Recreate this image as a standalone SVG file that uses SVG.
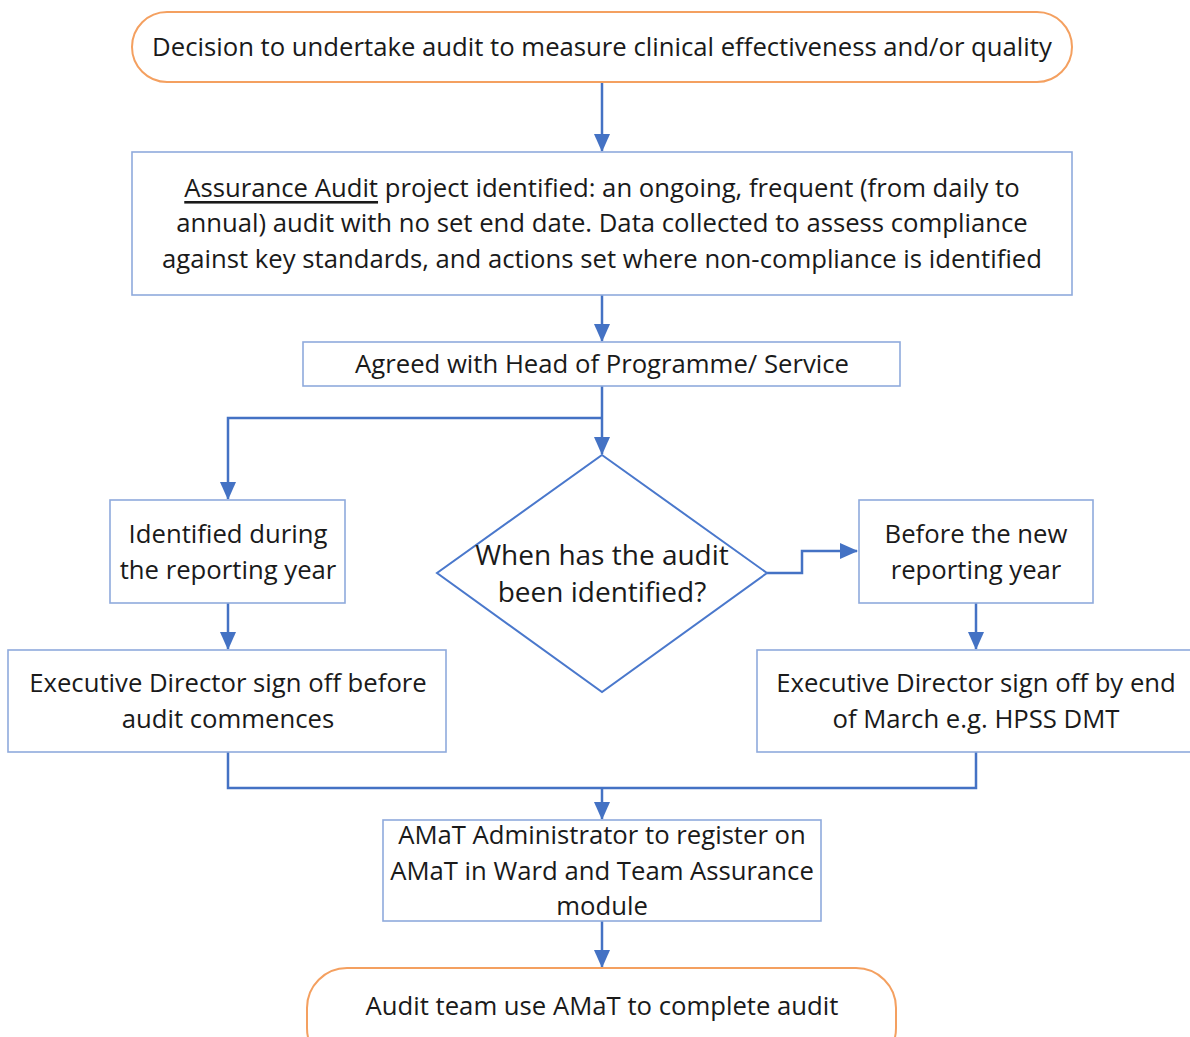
<svg xmlns="http://www.w3.org/2000/svg" width="1190" height="1037" viewBox="0 0 1190 1037">
<style>
text{font-family:"Open Sans","Noto Sans",sans-serif;font-size:25.7px;fill:#1a1a1a;text-anchor:middle;dominant-baseline:central}
.dt{font-size:28px}
.box{fill:#fff;stroke:#8FAADC;stroke-width:1.6}
.term{fill:#fff;stroke:#F4A060;stroke-width:2}
.dia{fill:#fff;stroke:#4A78CC;stroke-width:2}
.con{fill:none;stroke:#4472C4;stroke-width:2.5}
</style>
<defs>
<marker id="ah2" viewBox="0 0 18 18" markerWidth="18" markerHeight="18" refX="17" refY="9" orient="auto" markerUnits="userSpaceOnUse">
<path d="M0,1 L18,9 L0,17 z" fill="#4472C4"/>
</marker>
</defs>
<rect width="1190" height="1037" fill="#fff"/>
<g id="connectors">
<path class="con" d="M602,82 V151" marker-end="url(#ah2)"/>
<path class="con" d="M602,295 V341" marker-end="url(#ah2)"/>
<path class="con" d="M602,386 V454" marker-end="url(#ah2)"/>
<path class="con" d="M602,418 H228 V499" marker-end="url(#ah2)"/>
<path class="con" d="M767,573 H802 V551 H857" marker-end="url(#ah2)"/>
<path class="con" d="M228,603 V649" marker-end="url(#ah2)"/>
<path class="con" d="M976,603 V649" marker-end="url(#ah2)"/>
<path class="con" d="M228,752 V788 H976 V752"/>
<path class="con" d="M602,788 V819" marker-end="url(#ah2)"/>
<path class="con" d="M602,921 V967" marker-end="url(#ah2)"/>
</g>
<g id="start">
<rect class="term" x="132" y="12" width="940" height="70" rx="35"/>
<text x="602" y="46">Decision to undertake audit to measure clinical effectiveness and/or quality</text>
</g>
<g id="assurance">
<rect class="box" x="132" y="152" width="940" height="143"/>
<text x="602" y="187"><tspan text-decoration="underline">Assurance Audit</tspan> project identified: an ongoing, frequent (from daily to</text>
<text x="602" y="222">annual) audit with no set end date. Data collected to assess compliance</text>
<text x="602" y="258">against key standards, and actions set where non-compliance is identified</text>
</g>
<g id="agreed">
<rect class="box" x="303" y="342" width="597" height="44"/>
<text x="602" y="363">Agreed with Head of Programme/ Service</text>
</g>
<g id="decision">
<polygon class="dia" points="602,455 767,573 602,692 437,573"/>
<text class="dt" x="602" y="554">When has the audit</text>
<text class="dt" x="602" y="591">been identified?</text>
</g>
<g id="during">
<rect class="box" x="110" y="500" width="235" height="103"/>
<text x="228" y="533">Identified during</text>
<text x="228" y="569">the reporting year</text>
</g>
<g id="before">
<rect class="box" x="859" y="500" width="234" height="103"/>
<text x="976" y="533">Before the new</text>
<text x="976" y="569">reporting year</text>
</g>
<g id="signoff-left">
<rect class="box" x="8" y="650" width="438" height="102"/>
<text x="228" y="682">Executive Director sign off before</text>
<text x="228" y="718">audit commences</text>
</g>
<g id="signoff-right">
<rect class="box" x="757" y="650" width="440" height="102"/>
<text x="976" y="682">Executive Director sign off by end</text>
<text x="976" y="718">of March e.g. HPSS DMT</text>
</g>
<g id="register">
<rect class="box" x="383" y="820" width="438" height="101"/>
<text x="602" y="834">AMaT Administrator to register on</text>
<text x="602" y="870">AMaT in Ward and Team Assurance</text>
<text x="602" y="905">module</text>
</g>
<g id="end">
<rect class="term" x="307" y="968" width="589" height="100" rx="40"/>
<text x="602" y="1005">Audit team use AMaT to complete audit</text>
</g>
</svg>
